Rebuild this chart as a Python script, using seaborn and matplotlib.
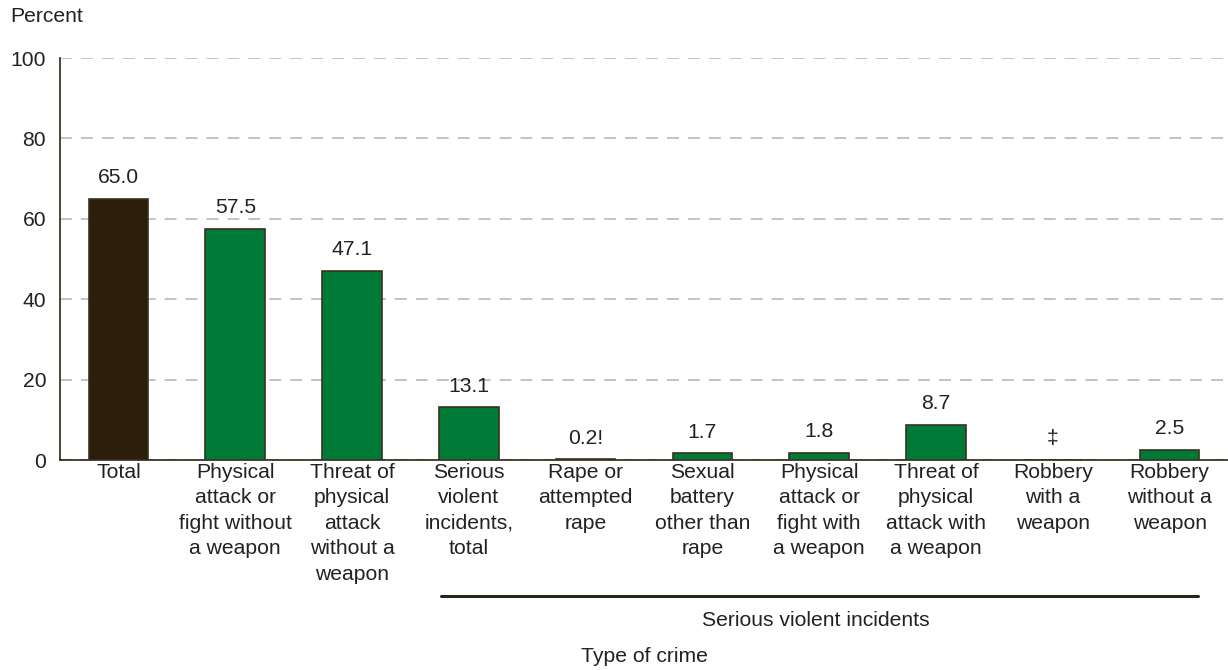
import numpy as np
import pandas as pd
import matplotlib
matplotlib.use("Agg")
import matplotlib.pyplot as plt
import seaborn as sns

categories = [
    "Total",
    "Physical\nattack or\nfight without\na weapon",
    "Threat of\nphysical\nattack\nwithout a\nweapon",
    "Serious\nviolent\nincidents,\ntotal",
    "Rape or\nattempted\nrape",
    "Sexual\nbattery\nother than\nrape",
    "Physical\nattack or\nfight with\na weapon",
    "Threat of\nphysical\nattack with\na weapon",
    "Robbery\nwith a\nweapon",
    "Robbery\nwithout a\nweapon",
]
values = [65.0, 57.5, 47.1, 13.1, 0.2, 1.7, 1.8, 8.7, 0.0, 2.5]
bar_labels = ["65.0", "57.5", "47.1", "13.1", "0.2!", "1.7", "1.8", "8.7", "\u2021", "2.5"]
colors = ["#2b1e0b"] + ["#007a37"] * 9

sns.set_style("white")
plt.rcParams["font.family"] = ["Liberation Sans", "DejaVu Sans"]

FS = 15.2
TXT = "#222222"

df = pd.DataFrame({"crime": categories, "pct": values})

fig = plt.figure(figsize=(12.28, 6.7), dpi=100)
ax = fig.add_axes([0.0489, 0.3134, 0.9511, 0.6])

sns.barplot(data=df, x="crime", y="pct", hue="crime", palette=colors,
            legend=False, width=0.51, edgecolor="#3a3020", linewidth=1.2,
            saturation=1, ax=ax, zorder=3)

for i, (v, lab) in enumerate(zip(values, bar_labels)):
    ax.text(i, v + 2.9, lab, ha="center", va="bottom", fontsize=FS, color=TXT)

ax.set_ylim(0, 100)
ax.set_xlim(-0.5, 9.5)
ax.set_yticks([0, 20, 40, 60, 80, 100])
ax.yaxis.grid(True, linestyle=(0, (7.8, 5.9)), color="#b9b3a0", linewidth=1.1, zorder=0)
ax.set_axisbelow(True)
ax.tick_params(axis="y", length=0, labelsize=FS, pad=10, colors=TXT)
ax.tick_params(axis="x", length=0, labelsize=FS, pad=2, colors=TXT)
for lab in ax.get_xticklabels():
    lab.set_linespacing(1.43)
    lab.set_va("top")
ax.set_xlabel("")
ax.set_ylabel("")
for s in ["top", "right"]:
    ax.spines[s].set_visible(False)
ax.spines["left"].set_color("#2b2516")
ax.spines["bottom"].set_color("#2b2516")
ax.spines["left"].set_linewidth(1.2)
ax.spines["bottom"].set_linewidth(1.2)

fig.text(10 / 1228, 1 - 17 / 670, "Percent", fontsize=FS, color=TXT,
         ha="left", va="center")

# bracket for serious violent incidents
ax.plot([2.76, 9.24], [-33.8, -33.8], color="#2b2516", linewidth=2.2,
        clip_on=False)
ax.text(5.97, -40.0, "Serious violent incidents", ha="center", va="center",
        fontsize=FS, color=TXT)
fig.text(0.5245, 1 - 656 / 670, "Type of crime", ha="center", va="center",
         fontsize=FS, color=TXT)

fig.savefig("out.png", dpi=100)
